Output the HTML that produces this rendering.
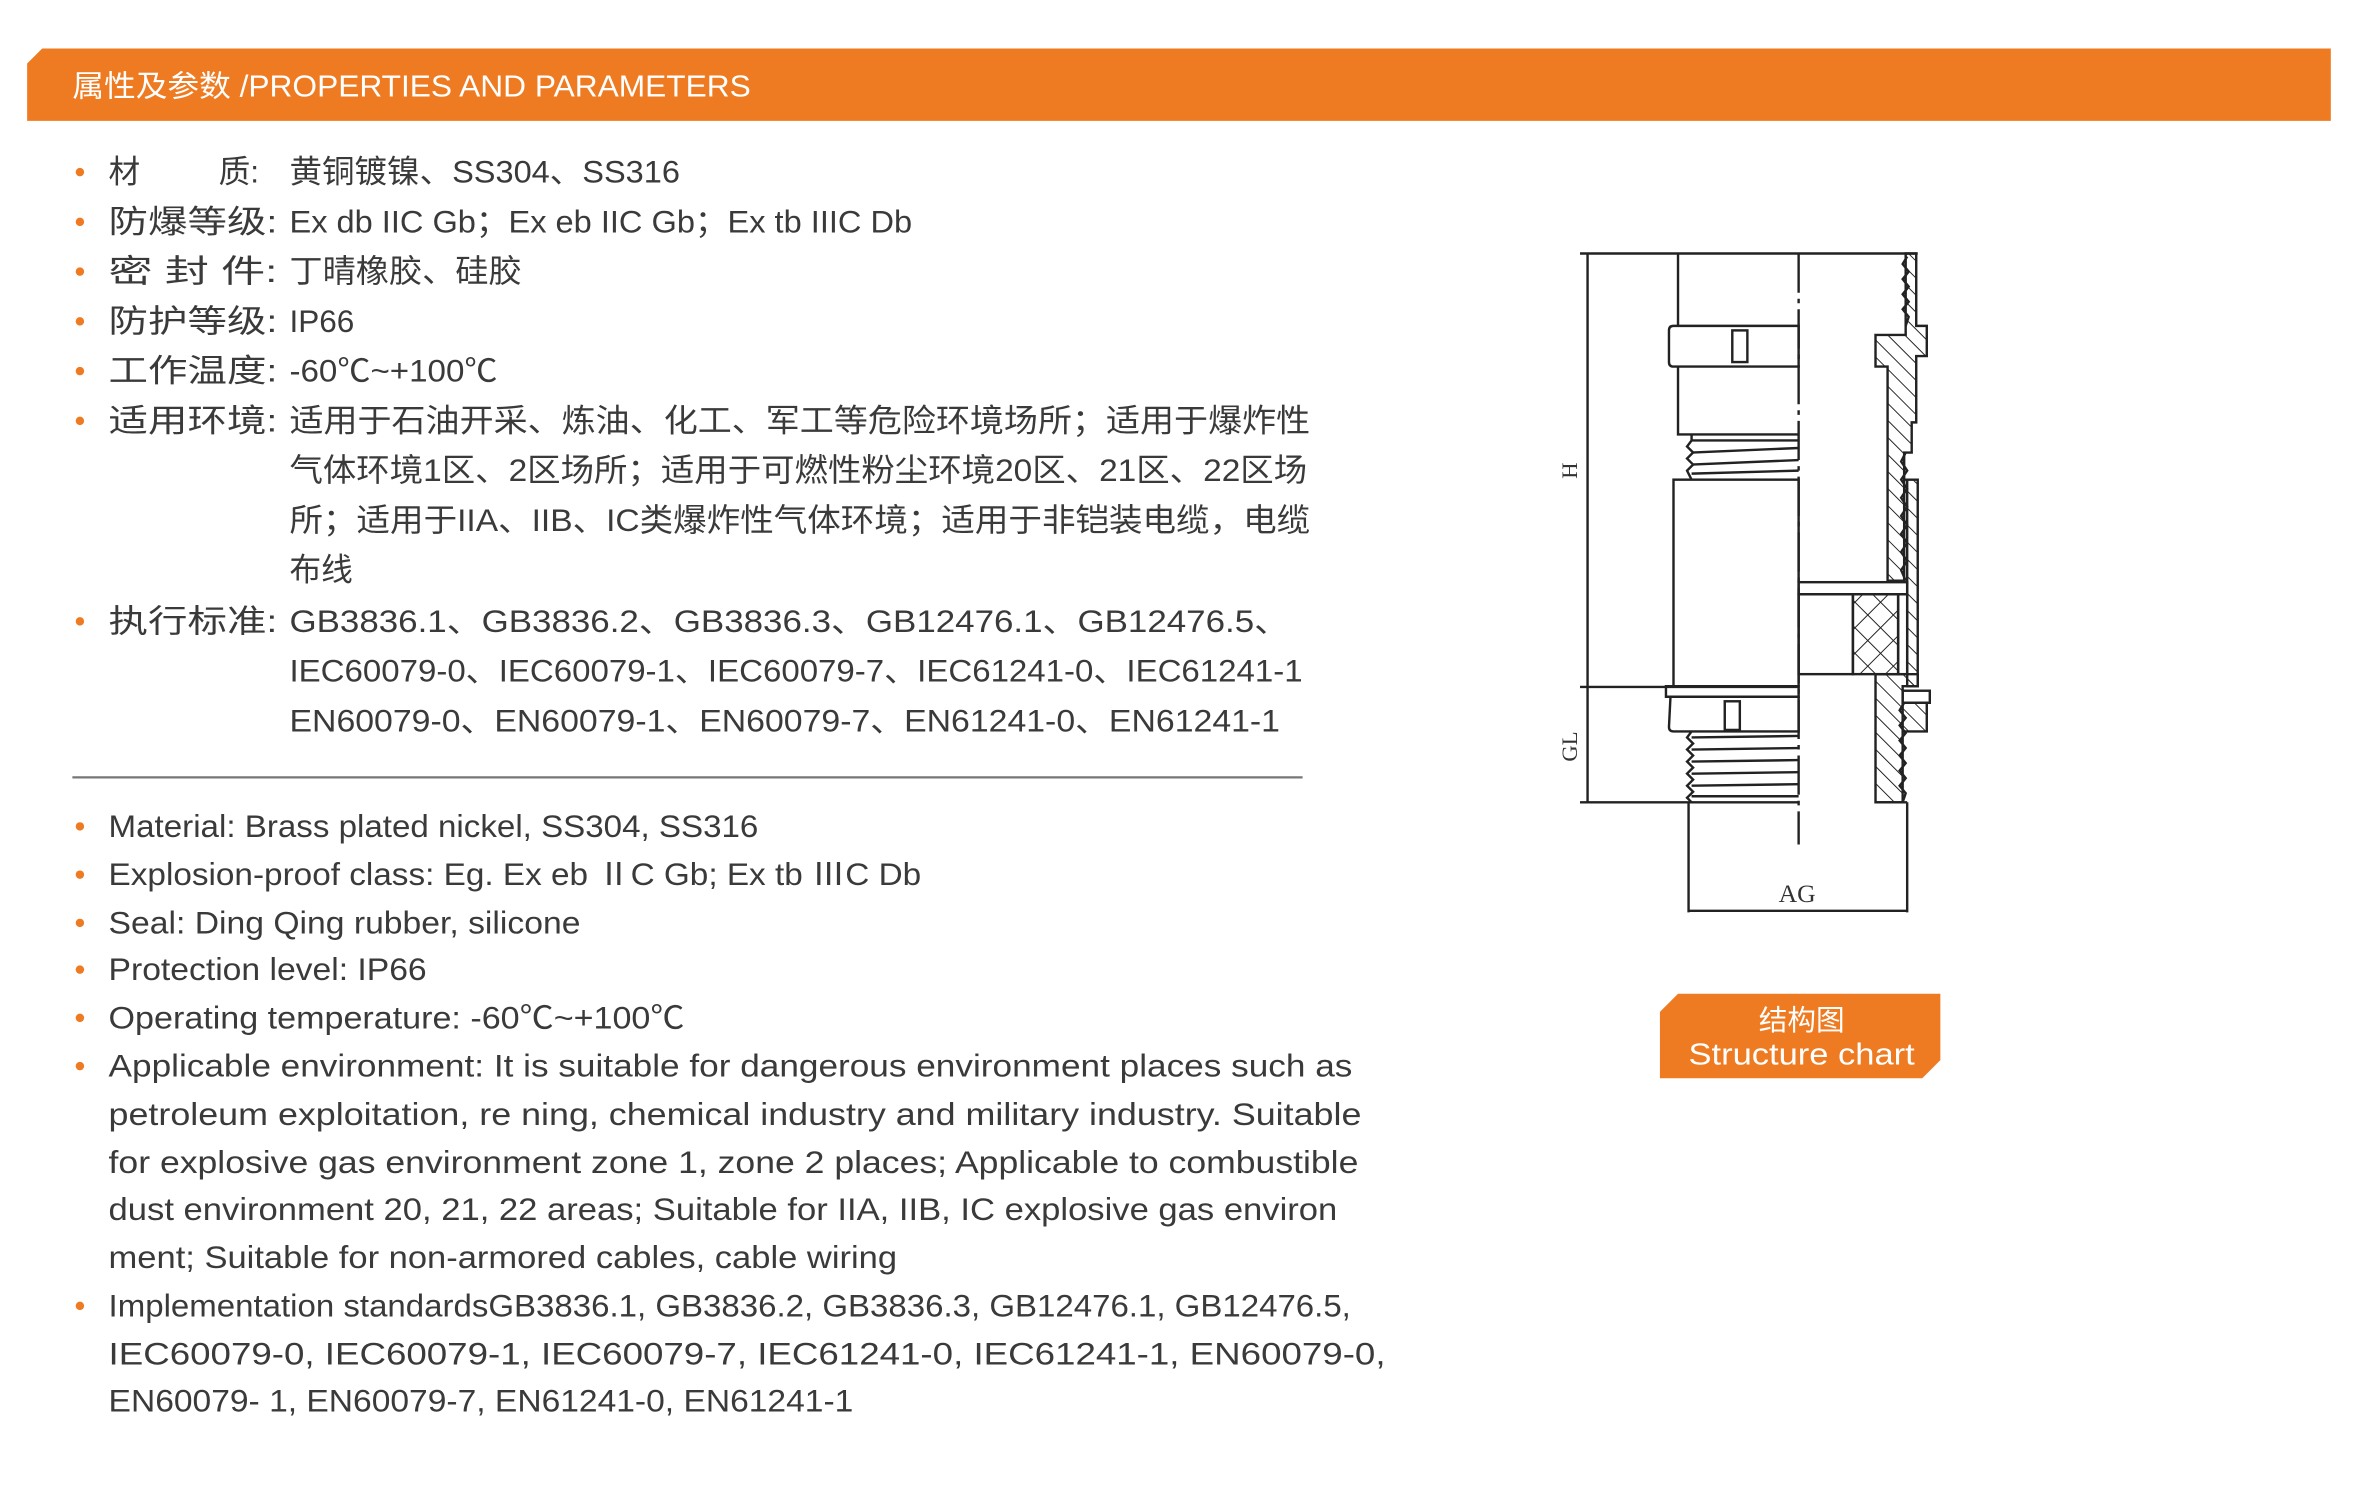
<!DOCTYPE html>
<html><head><meta charset="utf-8"><style>
html,body{margin:0;padding:0;background:#fff;width:2364px;height:1487px;overflow:hidden}
svg{display:block}
.t{font-family:"Liberation Sans","Noto Sans CJK SC",sans-serif;font-size:21px;fill:#3a3a3a}
.e{font-family:"Liberation Sans","Noto Sans CJK SC",sans-serif;font-size:21px;fill:#3a3a3a}
.d line,.d path,.d rect,.d polyline{stroke:#222;stroke-width:1.6;fill:none}
</style></head><body>
<svg width="2364" height="1487" viewBox="0 0 1568 986" xmlns="http://www.w3.org/2000/svg">
<defs>
<pattern id="h" width="8" height="8" patternUnits="userSpaceOnUse" patternTransform="rotate(-45)">
<line x1="0" y1="0" x2="0" y2="8" stroke="#222" stroke-width="1.3"/></pattern>
<pattern id="x" width="12" height="12" patternUnits="userSpaceOnUse" patternTransform="rotate(45)">
<line x1="0" y1="0" x2="0" y2="12" stroke="#222" stroke-width="1.3"/><line x1="0" y1="0" x2="12" y2="0" stroke="#222" stroke-width="1.3"/></pattern>
</defs>
<!-- header -->
<path d="M28 32 H1546 V80 H18 V42 Z" fill="#EE7B22"/>
<text x="48" y="64" font-family="'Liberation Sans','Noto Sans CJK SC',sans-serif" font-size="20" fill="#fff" textLength="450" lengthAdjust="spacingAndGlyphs">属性及参数 /PROPERTIES AND PARAMETERS</text>

<g fill="#EE7B22">
<circle cx="53" cy="114" r="2.8"/><circle cx="53" cy="147" r="2.8"/><circle cx="53" cy="180" r="2.8"/><circle cx="53" cy="213" r="2.8"/><circle cx="53" cy="246" r="2.8"/><circle cx="53" cy="279" r="2.8"/><circle cx="53" cy="412" r="2.8"/>
<circle cx="53" cy="548" r="2.8"/><circle cx="53" cy="580" r="2.8"/><circle cx="53" cy="612" r="2.8"/><circle cx="53" cy="643" r="2.8"/><circle cx="53" cy="675" r="2.8"/><circle cx="53" cy="707" r="2.8"/><circle cx="53" cy="866" r="2.8"/>
</g>
<g class="t">
<text x="72" y="121">材</text><text x="145" y="121">质:</text>
<text x="192" y="121" textLength="259" lengthAdjust="spacingAndGlyphs">黄铜镀镍、SS304、SS316</text>
<text x="72" y="154" textLength="112" lengthAdjust="spacingAndGlyphs">防爆等级:</text>
<text x="192" y="154" textLength="413" lengthAdjust="spacingAndGlyphs">Ex db IIC Gb；Ex eb IIC Gb；Ex tb IIIC Db</text>
<text x="72" y="187" textLength="112" lengthAdjust="spacingAndGlyphs">密 封 件:</text>
<text x="192" y="187" textLength="154" lengthAdjust="spacingAndGlyphs">丁晴橡胶、硅胶</text>
<text x="72" y="220" textLength="112" lengthAdjust="spacingAndGlyphs">防护等级:</text>
<text x="192" y="220" textLength="43" lengthAdjust="spacingAndGlyphs">IP66</text>
<text x="72" y="253" textLength="112" lengthAdjust="spacingAndGlyphs">工作温度:</text>
<text x="192" y="253" textLength="138" lengthAdjust="spacingAndGlyphs">-60℃~+100℃</text>
<text x="72" y="286" textLength="112" lengthAdjust="spacingAndGlyphs">适用环境:</text>
<text x="192" y="286" textLength="677" lengthAdjust="spacingAndGlyphs">适用于石油开采、炼油、化工、军工等危险环境场所；适用于爆炸性</text>
<text x="192" y="319" textLength="675" lengthAdjust="spacingAndGlyphs">气体环境1区、2区场所；适用于可燃性粉尘环境20区、21区、22区场</text>
<text x="192" y="352" textLength="677" lengthAdjust="spacingAndGlyphs">所；适用于IIA、IIB、IC类爆炸性气体环境；适用于非铠装电缆，电缆</text>
<text x="192" y="385" textLength="42" lengthAdjust="spacingAndGlyphs">布线</text>
<text x="72" y="419" textLength="112" lengthAdjust="spacingAndGlyphs">执行标准:</text>
<text x="192" y="419" textLength="663" lengthAdjust="spacingAndGlyphs">GB3836.1、GB3836.2、GB3836.3、GB12476.1、GB12476.5、</text>
<text x="192" y="452" textLength="672" lengthAdjust="spacingAndGlyphs">IEC60079-0、IEC60079-1、IEC60079-7、IEC61241-0、IEC61241-1</text>
<text x="192" y="485" textLength="657" lengthAdjust="spacingAndGlyphs">EN60079-0、EN60079-1、EN60079-7、EN61241-0、EN61241-1</text>
</g>
<line x1="48" y1="515.5" x2="864" y2="515.5" stroke="#777" stroke-width="1.5"/>
<g class="e">
<text x="72" y="555" textLength="431" lengthAdjust="spacingAndGlyphs">Material: Brass plated nickel, SS304, SS316</text>
<text x="72" y="587" textLength="539" lengthAdjust="spacingAndGlyphs">Explosion-proof class: Eg. Ex eb ⅡC Gb; Ex tb ⅢC Db</text>
<text x="72" y="619" textLength="313" lengthAdjust="spacingAndGlyphs">Seal: Ding Qing rubber, silicone</text>
<text x="72" y="650" textLength="211" lengthAdjust="spacingAndGlyphs">Protection level: IP66</text>
<text x="72" y="682" textLength="382" lengthAdjust="spacingAndGlyphs">Operating temperature: -60℃~+100℃</text>
<text x="72" y="714" textLength="825" lengthAdjust="spacingAndGlyphs">Applicable environment:  It is suitable for dangerous environment places such as</text>
<text x="72" y="746" textLength="831" lengthAdjust="spacingAndGlyphs">petroleum exploitation, re   ning, chemical industry and military industry. Suitable</text>
<text x="72" y="778" textLength="829" lengthAdjust="spacingAndGlyphs">for explosive gas environment zone 1, zone 2 places; Applicable to combustible</text>
<text x="72" y="809" textLength="815" lengthAdjust="spacingAndGlyphs">dust environment 20, 21, 22 areas; Suitable for IIA, IIB, IC explosive gas environ</text>
<text x="72" y="841" textLength="523" lengthAdjust="spacingAndGlyphs">ment; Suitable for non-armored cables, cable wiring</text>
<text x="72" y="873" textLength="824" lengthAdjust="spacingAndGlyphs">Implementation standardsGB3836.1, GB3836.2, GB3836.3, GB12476.1, GB12476.5,</text>
<text x="72" y="905" textLength="847" lengthAdjust="spacingAndGlyphs">IEC60079-0,   IEC60079-1,   IEC60079-7,   IEC61241-0,   IEC61241-1,   EN60079-0,</text>
<text x="72" y="936" textLength="494" lengthAdjust="spacingAndGlyphs">EN60079- 1, EN60079-7, EN61241-0, EN61241-1</text>
</g>

<!-- drawing -->
<g class="d">
<line x1="1048" y1="168" x2="1272" y2="168"/>
<line x1="1053" y1="168" x2="1053" y2="455"/>
<line x1="1048" y1="455.5" x2="1193" y2="455.5"/>
<line x1="1053" y1="456" x2="1053" y2="532"/>
<line x1="1048" y1="532" x2="1193" y2="532"/>
<line x1="1120" y1="532" x2="1120" y2="605"/>
<line x1="1265" y1="532" x2="1265" y2="605"/>
<line x1="1120" y1="604" x2="1265" y2="604"/>
<line x1="1193" y1="168" x2="1193" y2="560" stroke-dasharray="26 4 3 4"/>
<line x1="1113" y1="168" x2="1113" y2="216"/>
<path d="M1110 216 H1193 V243 H1110 Q1107 243 1107 240 V219 Q1107 216 1110 216 Z"/>
<rect x="1149" y="219" width="10" height="21"/>
<path d="M1113 243 V288 H1193"/>
<path d="M1122 288 V292 L1119 296 L1123 300 L1119 304 L1123 308 L1119 312 L1122 318"/>
<line x1="1122" y1="292" x2="1193" y2="292"/><line x1="1122" y1="300" x2="1193" y2="297"/><line x1="1122" y1="308" x2="1193" y2="305"/><line x1="1122" y1="314" x2="1193" y2="312"/>
<rect x="1110" y="318" width="83" height="137"/>
<path d="M1105 455 H1193 V462 H1105 Z"/>
<path d="M1108 462 H1193 V485 H1110 Q1107 485 1107 482 Z"/>
<rect x="1144" y="465" width="10" height="19"/>
<path d="M1122 485 L1119 489 L1123 493 L1119 497 L1123 501 L1119 505 L1123 509 L1119 513 L1123 517 L1119 521 L1123 525 L1119 529 L1122 532"/>
<line x1="1122" y1="489" x2="1193" y2="488"/><line x1="1122" y1="497" x2="1193" y2="496"/><line x1="1122" y1="505" x2="1193" y2="504"/><line x1="1122" y1="513" x2="1193" y2="512"/><line x1="1122" y1="521" x2="1193" y2="520"/><line x1="1122" y1="528" x2="1193" y2="528"/>
<path d="M1265 168 H1271 V216 H1278 V236 H1271 V280 H1268 V300 H1263 V385 H1252 V243 H1244 V222 H1264 V168 Z" style="fill:url(#h)"/>
<polyline points="1265,170 1262,175 1266,180 1262,185 1266,190 1262,195 1266,200 1262,205 1266,210 1264,216"/>
<path d="M1263 318 H1272 V455 H1265 V318" style="fill:url(#h)"/>
<polyline points="1264,300 1261,306 1265,312 1261,318 1265,324 1261,330 1265,336 1261,342 1265,348 1261,354 1265,360 1261,366 1265,372 1261,378 1264,385"/>
<rect x="1193" y="386" width="72" height="8"/>
<rect x="1193" y="394" width="36" height="53"/>
<rect x="1229" y="394" width="30" height="53" style="fill:url(#x)"/>
<rect x="1259" y="394" width="6" height="53"/>
<path d="M1244 447 H1272 V455 H1262 V532 H1244 Z" style="fill:url(#h)"/>
<rect x="1262" y="458" width="18" height="8"/>
<path d="M1262 466 H1278 V485 H1262" style="fill:url(#h)"/>
<polyline points="1263,466 1260,471 1264,476 1260,481 1264,486 1260,491 1264,496 1260,501 1264,506 1260,511 1264,516 1260,521 1264,526 1262,532"/>
<line x1="1244" y1="532" x2="1265" y2="532"/>
</g>
<text x="1192" y="598" text-anchor="middle" font-family="'Liberation Serif',serif" font-size="17" fill="#333">AG</text>
<text x="0" y="0" transform="translate(1046 312) rotate(-90)" text-anchor="middle" font-family="'Liberation Serif',serif" font-size="15" fill="#333">H</text>
<text x="0" y="0" transform="translate(1046 495) rotate(-90)" text-anchor="middle" font-family="'Liberation Serif',serif" font-size="15" fill="#333">GL</text>

<path d="M1113 659 H1287 V703 L1275 715 H1101 V671 Z" fill="#EE7B22"/>
<text x="1195" y="683" text-anchor="middle" font-family="'Liberation Sans','Noto Sans CJK SC',sans-serif" font-size="19" fill="#fff">结构图</text>
<text x="1195" y="706" text-anchor="middle" font-family="'Liberation Sans',sans-serif" font-size="20" fill="#fff" textLength="150" lengthAdjust="spacingAndGlyphs">Structure chart</text>
</svg>
</body></html>
